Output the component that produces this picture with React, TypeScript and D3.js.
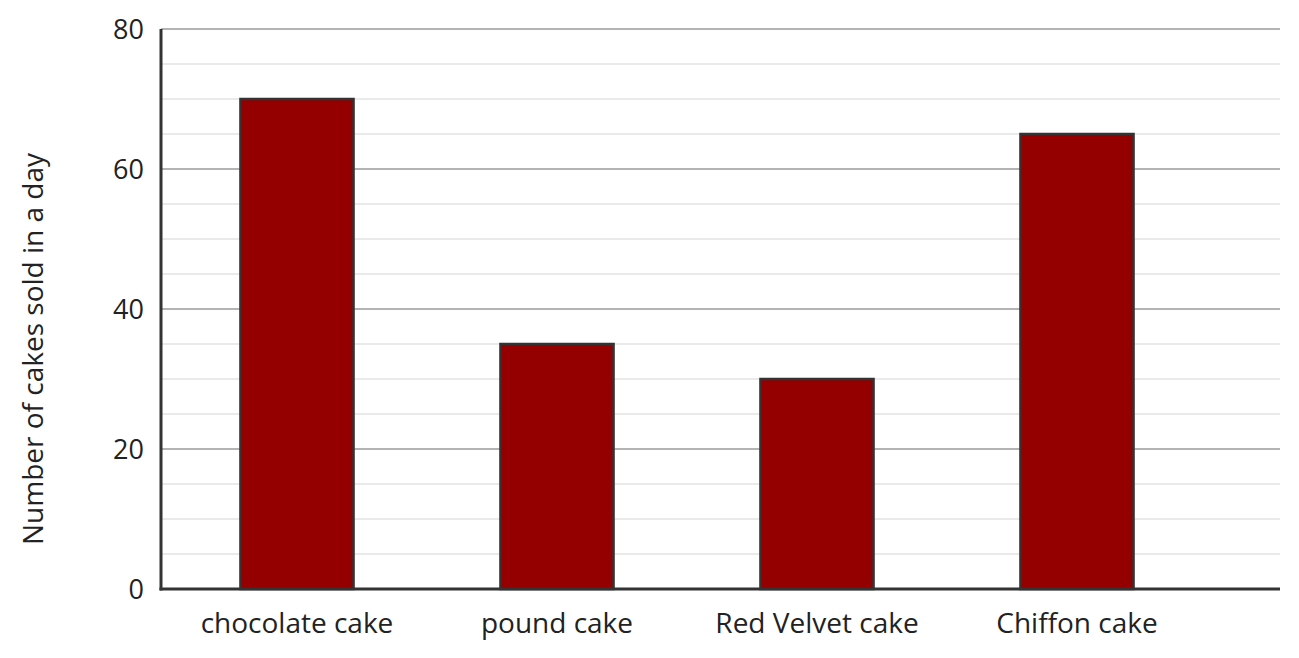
import * as d3 from 'd3';
import React from 'react';

const categories = ['chocolate cake', 'pound cake', 'Red Velvet cake', 'Chiffon cake'];
const sold = [70, 35, 30, 65];
const majorTicks = [0, 20, 40, 60, 80];
const minorTicks = [5, 10, 15, 25, 30, 35, 45, 50, 55, 65, 70, 75];

function App() {
  const w = 1299;
  const h = 658;
  const left = 161;
  const right = 1280;
  const top = 29;
  const bottom = 589;
  const font = '"Open Sans", "Noto Sans", sans-serif';

  const y = d3.scaleLinear().domain([0, 80]).range([bottom, top]);
  const x = d3
    .scaleBand<string>()
    .domain(categories)
    .range([167, 1207])
    .paddingInner(0.565)
    .paddingOuter(0.2825);

  return (
    <svg
      width={w}
      height={h}
      style={{ position: 'absolute', left: 0, top: 0, background: '#fff' }}
    >
      {minorTicks.map((t) => (
        <line
          key={'m' + t}
          x1={left}
          x2={right}
          y1={y(t)}
          y2={y(t)}
          stroke="#e3e3e3"
          strokeWidth={1.5}
        />
      ))}
      {majorTicks.map((t) => (
        <line
          key={'M' + t}
          x1={left}
          x2={right}
          y1={y(t)}
          y2={y(t)}
          stroke="#9a9a9a"
          strokeWidth={1.5}
        />
      ))}
      {majorTicks.map((t) => (
        <text
          key={'t' + t}
          x={144}
          y={y(t)}
          dy="0.36em"
          textAnchor="end"
          fontFamily={font}
          fontSize={27}
          fill="#222"
        >
          {t}
        </text>
      ))}
      {categories.map((c, i) => (
        <rect
          key={c}
          x={x(c)}
          y={y(sold[i])}
          width={x.bandwidth()}
          height={y(0) - y(sold[i])}
          fill="#940000"
          stroke="#333"
          strokeWidth={2.5}
        />
      ))}
      {categories.map((c) => (
        <text
          key={'l' + c}
          x={(x(c) ?? 0) + x.bandwidth() / 2}
          y={633}
          textAnchor="middle"
          fontFamily={font}
          fontSize={28}
          fill="#222"
        >
          {c}
        </text>
      ))}
      <line x1={left} x2={left} y1={top} y2={bottom + 1.5} stroke="#333" strokeWidth={3} />
      <line x1={left - 1.5} x2={right} y1={bottom} y2={bottom} stroke="#333" strokeWidth={3} />
      <text
        transform={`translate(43, 349) rotate(-90)`}
        textAnchor="middle"
        fontFamily={font}
        fontSize={28}
        fill="#222"
      >
        Number of cakes sold in a day
      </text>
    </svg>
  );
}

export default App;
